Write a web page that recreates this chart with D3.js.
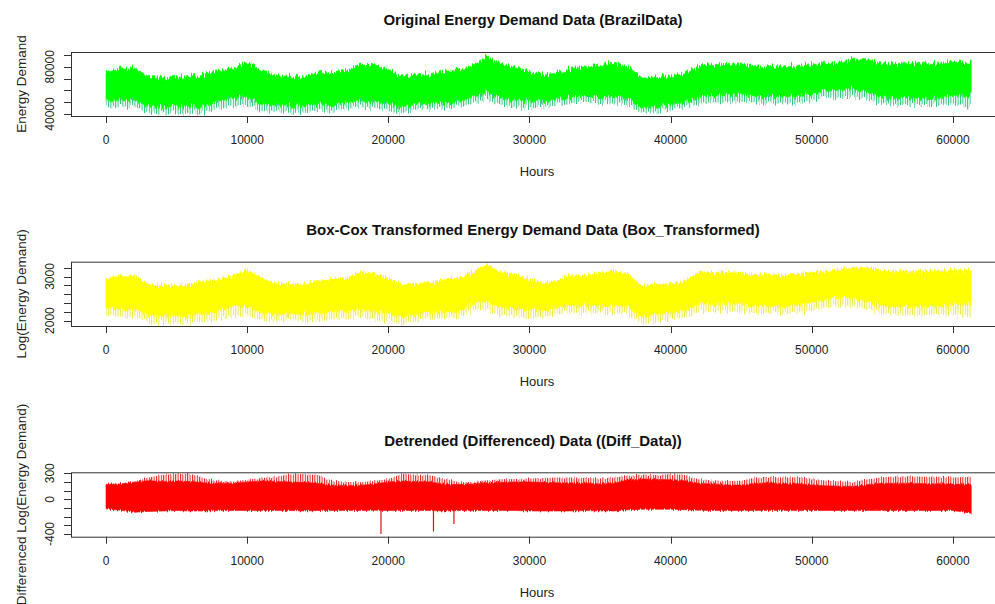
<!DOCTYPE html>
<html>
<head>
<meta charset="utf-8">
<script src="https://cdn.jsdelivr.net/npm/d3@7"></script>
<style>
  body { margin: 0; background: #fff; }
  svg { display: block; font-family: "Liberation Sans", Arial, sans-serif; }
</style>
</head>
<body>
<svg id="chart" width="995" height="604"></svg>
<script>
// Sample hours (x positions of the envelope readings)
const hours = [0, 1000, 2000, 3000, 4000, 5000, 6000, 7000, 8000, 9000,
  10000, 11000, 12000, 13000, 14000, 15000, 16000, 17000, 18000, 19000,
  20000, 21000, 22000, 23000, 24000, 25000, 26000, 27000, 28000, 29000,
  30000, 31000, 32000, 33000, 34000, 35000, 36000, 37000, 38000, 39000,
  40000, 41000, 42000, 43000, 44000, 45000, 46000, 47000, 48000, 49000,
  50000, 51000, 52000, 53000, 54000, 55000, 56000, 57000, 58000, 59000,
  60000, 61300];

// Original demand: upper edge, solid lower edge, tips of the daily dips
const demandHigh = [76000, 79000, 79000, 72000, 71000, 71000, 72000, 74000, 76000, 79000,
  84000, 77000, 72500, 72000, 72000, 75000, 76000, 77000, 81500, 81000,
  77000, 71500, 73000, 73500, 76000, 77500, 82000, 89000, 82000, 80000,
  76000, 73000, 75000, 79000, 79000, 82000, 83000, 80000, 70500, 71500,
  72500, 74000, 82000, 82000, 82000, 81500, 80000, 80000, 80000, 80500,
  82000, 83000, 84000, 86500, 86000, 83000, 83000, 83000, 83000, 83000,
  84000, 84000];
const demandLow = [52000, 52000, 51500, 46500, 46000, 46000, 46500, 47000, 50000, 54000,
  54500, 48000, 47500, 47500, 47500, 48000, 48500, 50000, 51000, 49500,
  48500, 45000, 48000, 49000, 49000, 50000, 56000, 58500, 53000, 52000,
  51000, 50500, 53000, 54500, 54500, 54500, 54500, 53000, 45000, 46500,
  48500, 49500, 55500, 56000, 56000, 55500, 54500, 54500, 54500, 55000,
  57000, 60000, 61000, 61000, 58000, 54000, 53500, 53500, 53000, 53500,
  55000, 56000];
const demandDips = [46500, 46500, 46000, 41000, 40600, 40600, 41000, 41500, 44000, 46500,
  47000, 42500, 42000, 42000, 42000, 42500, 43000, 44500, 45500, 43500,
  42500, 40000, 43000, 44500, 44500, 45500, 50500, 52000, 47000, 45500,
  45000, 45000, 48000, 49300, 49300, 49300, 49000, 47500, 40800, 41500,
  44000, 45000, 50000, 50000, 50000, 49500, 49000, 49000, 49000, 49000,
  51000, 54000, 54500, 54500, 52000, 48500, 47600, 47600, 47600, 47600,
  48000, 46000];

// Box-Cox transformed demand
const boxHigh = [2930, 3020, 3020, 2820, 2790, 2790, 2820, 2880, 2930, 3020,
  3150, 2960, 2840, 2820, 2820, 2900, 2930, 2960, 3080, 3070,
  2960, 2810, 2850, 2860, 2930, 2970, 3090, 3280, 3090, 3040,
  2930, 2850, 2900, 3020, 3020, 3090, 3120, 3040, 2780, 2810,
  2830, 2880, 3090, 3090, 3090, 3080, 3040, 3040, 3040, 3050,
  3090, 3120, 3150, 3210, 3200, 3120, 3120, 3120, 3120, 3120,
  3150, 3150];
const boxLow = [2270, 2270, 2260, 2120, 2110, 2110, 2120, 2140, 2220, 2330,
  2340, 2160, 2150, 2150, 2150, 2160, 2180, 2220, 2250, 2200,
  2180, 2080, 2160, 2190, 2190, 2220, 2380, 2450, 2300, 2270,
  2250, 2230, 2300, 2340, 2340, 2340, 2340, 2300, 2080, 2120,
  2180, 2210, 2370, 2380, 2380, 2370, 2340, 2340, 2340, 2360,
  2410, 2490, 2520, 2520, 2440, 2330, 2320, 2320, 2300, 2320,
  2360, 2380];
const boxDips = [2100, 2100, 2090, 1950, 1940, 1940, 1950, 1970, 2030, 2100,
  2120, 1990, 1980, 1980, 1980, 1990, 2010, 2050, 2080, 2020,
  1990, 1920, 2010, 2050, 2050, 2080, 2210, 2250, 2120, 2080,
  2060, 2060, 2140, 2180, 2180, 2180, 2170, 2130, 1950, 1970,
  2030, 2060, 2200, 2200, 2200, 2190, 2170, 2170, 2170, 2170,
  2230, 2310, 2320, 2320, 2250, 2160, 2130, 2130, 2130, 2130,
  2140, 2090];

// Differenced series: peak tips, solid upper edge, lower edge
const diffPeaks = [180, 185, 205, 250, 280, 290, 290, 240, 215, 205,
  225, 245, 260, 285, 290, 280, 215, 200, 195, 210,
  235, 290, 285, 275, 240, 195, 200, 220, 230, 235,
  240, 245, 250, 250, 245, 240, 250, 270, 285, 280,
  290, 280, 230, 220, 210, 215, 250, 260, 250, 255,
  240, 215, 205, 200, 230, 255, 265, 265, 260, 260,
  250, 260];
const diffHigh = [170, 175, 195, 215, 205, 210, 205, 190, 185, 185,
  200, 210, 205, 200, 195, 185, 165, 160, 160, 175,
  200, 210, 205, 200, 175, 170, 175, 190, 195, 200,
  200, 195, 190, 190, 185, 180, 185, 225, 235, 230,
  225, 215, 185, 175, 165, 165, 185, 190, 180, 180,
  165, 155, 150, 150, 170, 185, 185, 185, 180, 180,
  175, 170];
const diffLow = [-110, -125, -150, -140, -135, -130, -135, -135, -130, -130,
  -130, -130, -130, -130, -135, -130, -130, -130, -130, -125,
  -130, -130, -130, -130, -135, -130, -130, -130, -130, -130,
  -135, -135, -135, -135, -130, -135, -135, -120, -115, -115,
  -115, -120, -125, -130, -130, -130, -130, -130, -130, -130,
  -130, -130, -130, -130, -130, -130, -130, -130, -130, -130,
  -130, -160];
// Isolated negative drops in the differenced series
const dropHours = [19480, 23200, 24650];
const dropValues = [-400, -372, -285];

// Axis ticks and labels
const xTicks = [0, 10000, 20000, 30000, 40000, 50000, 60000];
const demandTicks = [40000, 50000, 60000, 70000, 80000, 90000];
const demandLabels = [40000, 80000];
const boxTicks = [2000, 2200, 2400, 2600, 2800, 3000, 3200];
const boxLabels = [2000, 3000];
const diffTicks = [-400, -300, -200, -100, 0, 100, 200, 300];
const diffLabels = [-400, 0, 300];

const svg = d3.select("#chart");
const left = 71, right = 1003;
const x = d3.scaleLinear().domain([-2480, 63550]).range([left, right]);

const panels = [
  { title: "Original Energy Demand Data (BrazilData)", ylab: "Energy Demand",
    top: 52, bottom: 116, domain: [38300, 92540],
    high: demandHigh, low: demandLow, dips: demandDips,
    ticks: demandTicks, labels: demandLabels,
    fill: "#00ff00", stripe: "#22c276", titleY: 25, roughness: 11 },
  { title: "Box-Cox Transformed Energy Demand Data (Box_Transformed)", ylab: "Log(Energy Demand)",
    top: 261.7, bottom: 326, domain: [1878, 3336],
    high: boxHigh, low: boxLow, dips: boxDips,
    ticks: boxTicks, labels: boxLabels,
    fill: "#ffff00", stripe: "#ecea3c", titleY: 235, roughness: 11 },
  { title: "Detrended (Differenced) Data ((Diff_Data))", ylab: "Differenced Log(Energy Demand)",
    top: 472.3, bottom: 536.7, domain: [-431, 311],
    high: diffHigh, low: diffLow, peaks: diffPeaks,
    ticks: diffTicks, labels: diffLabels,
    fill: "#ff0000", stripe: "#e01818", titleY: 446, roughness: 5 }
];

const defs = svg.append("defs");

panels.forEach((p, k) => {
  const y = d3.scaleLinear().domain(p.domain).range([p.bottom, p.top]);
  const idx = d3.range(hours.length);

  // hourly texture: breaks the envelope edges into thin vertical spikes
  const rough = defs.append("filter").attr("id", "rough" + k)
    .attr("x", "-1%").attr("y", "-30%").attr("width", "102%").attr("height", "160%");
  rough.append("feTurbulence").attr("type", "fractalNoise")
    .attr("baseFrequency", "0.7 0.004").attr("numOctaves", 2).attr("seed", 7).attr("result", "noise");
  rough.append("feColorMatrix").attr("in", "noise").attr("type", "matrix")
    .attr("values", "0 0 0 0 0.5  0 1 0 0 0  0 0 1 0 0  0 0 0 0 1").attr("result", "vnoise");
  rough.append("feDisplacementMap").attr("in", "SourceGraphic").attr("in2", "vnoise")
    .attr("scale", p.roughness).attr("xChannelSelector", "R").attr("yChannelSelector", "G");

  // vertical stripe pattern for the spiky fringes
  const pat = defs.append("pattern")
    .attr("id", "stripe" + k).attr("patternUnits", "userSpaceOnUse")
    .attr("width", 2.4).attr("height", 10);
  pat.append("rect").attr("x", 0).attr("y", 0).attr("width", 1).attr("height", 10)
    .attr("fill", p.stripe);

  defs.append("clipPath").attr("id", "plot" + k)
    .append("rect").attr("x", left).attr("y", p.top)
    .attr("width", right - left).attr("height", p.bottom - p.top);

  const g = svg.append("g").attr("clip-path", `url(#plot${k})`)
    .append("g").attr("filter", `url(#rough${k})`);

  if (p.dips) {
    g.append("path")
      .attr("d", d3.area().x(i => x(hours[i])).y0(i => y(p.dips[i])).y1(i => y(p.low[i]))(idx))
      .attr("fill", `url(#stripe${k})`);
  }
  if (p.peaks) {
    g.append("path")
      .attr("d", d3.area().x(i => x(hours[i])).y0(i => y(p.high[i])).y1(i => y(p.peaks[i]))(idx))
      .attr("fill", `url(#stripe${k})`);
  }
  g.append("path")
    .attr("d", d3.area().x(i => x(hours[i])).y0(i => y(p.low[i])).y1(i => y(p.high[i]))(idx))
    .attr("fill", p.fill).attr("stroke", p.fill).attr("stroke-width", 0.6);

  if (k === 2) {
    svg.append("g").attr("clip-path", `url(#plot${k})`)
      .selectAll("line").data(dropHours).join("line")
      .attr("x1", (h) => x(h)).attr("x2", (h) => x(h))
      .attr("y1", y(0)).attr("y2", (h, i) => y(dropValues[i]))
      .attr("stroke", "#e01010").attr("stroke-width", 1.2);
  }

  // frame
  svg.append("rect").attr("x", left + 0.5).attr("y", p.top + 0.5)
    .attr("width", right - left).attr("height", p.bottom - p.top)
    .attr("fill", "none").attr("stroke", "#333").attr("stroke-width", 1);

  // y axis
  const ya = svg.append("g").attr("stroke", "#333");
  ya.append("line").attr("x1", left + 0.5).attr("x2", left + 0.5)
    .attr("y1", y(p.ticks[0])).attr("y2", y(p.ticks[p.ticks.length - 1]));
  ya.selectAll("line.t").data(p.ticks).join("line").attr("class", "t")
    .attr("x1", left + 0.5).attr("x2", left - 7)
    .attr("y1", d => Math.round(y(d)) + 0.5).attr("y2", d => Math.round(y(d)) + 0.5);
  svg.selectAll(null).data(p.labels).join("text")
    .attr("transform", d => `translate(${left - 17},${y(d)}) rotate(-90)`)
    .attr("text-anchor", "middle").attr("font-size", 12).attr("fill", "#222")
    .text(d => d);

  // x axis
  const xa = svg.append("g").attr("stroke", "#333");
  xa.selectAll("line").data(xTicks).join("line")
    .attr("x1", d => Math.round(x(d)) + 0.5).attr("x2", d => Math.round(x(d)) + 0.5)
    .attr("y1", p.bottom).attr("y2", p.bottom + 7);
  svg.selectAll(null).data(xTicks).join("text")
    .attr("x", d => x(d)).attr("y", p.bottom + 28)
    .attr("text-anchor", "middle").attr("font-size", 12).attr("fill", "#222")
    .text(d => d);
  svg.append("text").attr("x", (left + right) / 2).attr("y", p.bottom + 60)
    .attr("text-anchor", "middle").attr("font-size", 13).attr("fill", "#222")
    .text("Hours");

  // title
  svg.append("text").attr("x", 533).attr("y", p.titleY)
    .attr("text-anchor", "middle").attr("font-size", 15).attr("font-weight", "bold")
    .attr("fill", "#111").text(p.title);

  // y label
  svg.append("text")
    .attr("transform", `translate(26,${(p.top + p.bottom) / 2}) rotate(-90)`)
    .attr("text-anchor", "middle").attr("font-size", 13.5).attr("fill", "#222")
    .text(p.ylab);
});
</script>
</body>
</html>
